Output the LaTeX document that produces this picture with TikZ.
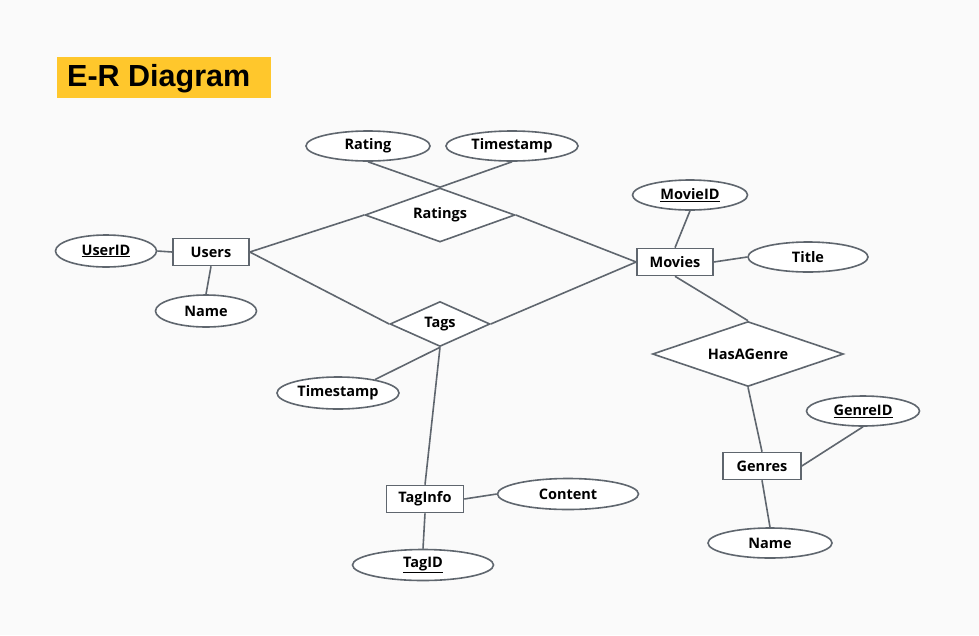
\documentclass[tikz,border=0pt]{standalone}
\usepackage{fontspec}
\setmainfont{Open Sans}
\newfontfamily\headfont{Liberation Sans}
\usepackage{tikz}
\usetikzlibrary{shapes.geometric}

\definecolor{erline}{HTML}{5F666E}
\definecolor{ertitle}{HTML}{FFC72C}
\definecolor{erback}{HTML}{FAFAFA}

\tikzset{
  entity/.style={draw=erline, line width=1.6pt, fill=white, rectangle,
    minimum width=76pt, minimum height=27pt, inner sep=0pt,
    font=\fontsize{14.5}{16}\selectfont\bfseries},
  attrib/.style={draw=erline, line width=1.6pt, fill=white, ellipse,
    minimum height=30pt, inner sep=0pt,
    font=\fontsize{14.5}{16}\selectfont\bfseries},
  relation/.style={draw=erline, line width=1.6pt, fill=white, diamond,
    aspect=2.5, inner sep=0pt,
    font=\fontsize{14.5}{16}\selectfont\bfseries},
  link/.style={draw=erline, line width=1.6pt}
}

\begin{document}
\begin{tikzpicture}[x=1pt, y=-1pt]
  \fill[erback] (0,0) rectangle (979,635);
  \useasboundingbox (0,0) rectangle (979,635);

  % title
  \node[fill=ertitle, minimum width=214pt, minimum height=41pt, inner sep=0pt,
    anchor=north west] (title) at (57,57) {};
  \node[anchor=west, inner sep=0pt, font=\headfont\fontsize{30.5}{33}\selectfont\bfseries]
    (titletext) at (67,79) {E-R Diagram};

  % entities
  \node[entity] (users) at (211,252) {Users};
  \node[entity] (movies) at (675,262) {Movies};
  \node[entity, minimum width=77pt] (taginfo) at (425,499) {TagInfo};
  \node[entity, minimum width=78pt] (genres) at (762,466) {Genres};

  % relationships
  \node[relation, minimum width=150pt, minimum height=54pt] (ratings) at (440,215) {Ratings};
  \node[relation, minimum width=100pt, minimum height=45pt] (tags) at (440,324) {Tags};
  \node[relation, minimum width=191pt, minimum height=65pt] (hasgenre) at (748,354) {HasAGenre};

  % attributes
  \node[attrib, minimum width=101pt, minimum height=32pt] (userid) at (106,251) {\underline{UserID}};
  \node[attrib, minimum width=101pt, minimum height=32pt] (uname) at (206,311) {Name};
  \node[attrib, minimum width=124pt] (rating) at (368,146) {Rating};
  \node[attrib, minimum width=132pt] (rtime) at (512,146) {Timestamp};
  \node[attrib, minimum width=115pt] (movieid) at (690,195) {\underline{MovieID}};
  \node[attrib, minimum width=120pt] (title) at (808,257) {Title};
  \node[attrib, minimum width=122pt, minimum height=32pt] (ttime) at (338,393) {Timestamp};
  \node[attrib, minimum width=141pt, minimum height=31pt] (content) at (568,494) {Content};
  \node[attrib, minimum width=141pt, minimum height=31pt] (tagid) at (423,565) {\underline{TagID}};
  \node[attrib, minimum width=113pt] (genreid) at (863,411) {\underline{GenreID}};
  \node[attrib, minimum width=124pt] (gname) at (770,543) {Name};

  % connectors
  \draw[link] (userid.east) -- (users.west);
  \draw[link] (users.south) -- (uname.north);
  \draw[link] (users.east) -- (ratings.west);
  \draw[link] (ratings.north) -- (rtime.south);
  \draw[link] (rating.south) -- (ratings.north);
  \draw[link] (ratings.east) -- (movies.west);
  \draw[link] (users.east) -- (tags.west);
  \draw[link] (movies.west) -- (tags.east);
  \draw[link] (tags.south) -- (ttime.20);
  \draw[link] (tags.south) -- (taginfo.north);
  \draw[link] (taginfo.east) -- (content.west);
  \draw[link] (taginfo.south) -- (tagid.north);
  \draw[link] (movieid.south) -- (movies.north);
  \draw[link] (movies.east) -- (title.west);
  \draw[link] (movies.south) -- (hasgenre.north);
  \draw[link] (hasgenre.south) -- (genres.north);
  \draw[link] (genres.east) -- (genreid.south);
  \draw[link] (genres.south) -- (gname.north);
\end{tikzpicture}
\end{document}
